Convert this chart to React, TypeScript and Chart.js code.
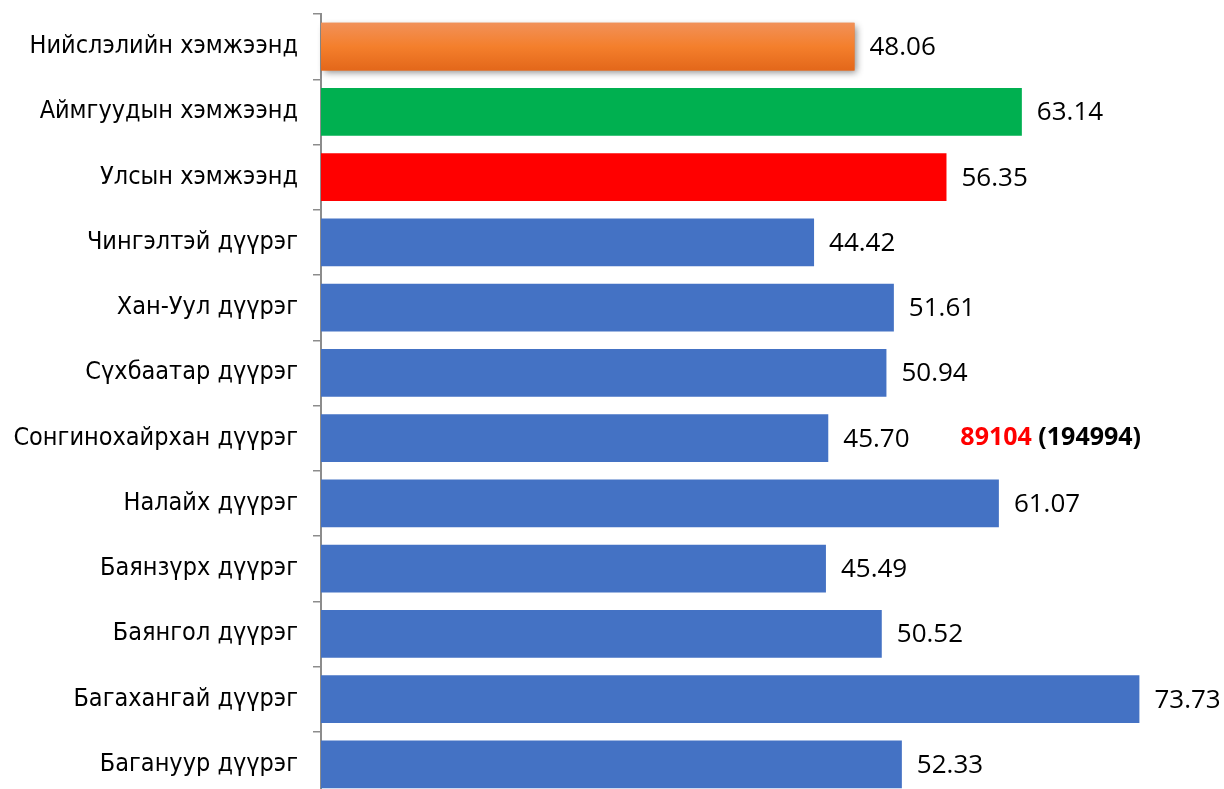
import { useEffect, useRef } from 'react';
import { Chart, registerables } from 'chart.js';

Chart.register(...registerables);

const categories = [
  'Нийслэлийн хэмжээнд',
  'Аймгуудын хэмжээнд',
  'Улсын хэмжээнд',
  'Чингэлтэй дүүрэг',
  'Хан-Уул дүүрэг',
  'Сүхбаатар дүүрэг',
  'Сонгинохайрхан дүүрэг',
  'Налайх дүүрэг',
  'Баянзүрх дүүрэг',
  'Баянгол дүүрэг',
  'Багахангай дүүрэг',
  'Багануур дүүрэг',
];
const values = [48.06, 63.14, 56.35, 44.42, 51.61, 50.94, 45.7, 61.07, 45.49, 50.52, 73.73, 52.33];
const barColors = [
  '#F47F2C',
  '#00B050',
  '#FF0000',
  '#4472C4',
  '#4472C4',
  '#4472C4',
  '#4472C4',
  '#4472C4',
  '#4472C4',
  '#4472C4',
  '#4472C4',
  '#4472C4',
];
const noteCategory = 'Сонгинохайрхан дүүрэг';
const noteHighlight = '89104';
const noteRest = '(194994)';
const noteValue = 57.6;
const axisMax = 80;

const VALUE_FONT = '26px "Open Sans"';
const NOTE_FONT = 'bold 25px "Open Sans"';

export default function App() {
  const ref = useRef<HTMLCanvasElement>(null);

  useEffect(() => {
    const canvas = ref.current!;

    const shadowPlugin = {
      id: 'barShadow',
      beforeDatasetsDraw(chart: any) {
        const bar: any = chart.getDatasetMeta(0).data[0];
        if (!bar) return;
        const { x, y, base, height } = bar.getProps(['x', 'y', 'base', 'height'], true);
        const ctx = chart.ctx;
        ctx.save();
        ctx.shadowColor = 'rgba(0,0,0,0.45)';
        ctx.shadowBlur = 7;
        ctx.shadowOffsetX = 3;
        ctx.shadowOffsetY = 3;
        ctx.fillStyle = '#E8742A';
        ctx.fillRect(base, y - height / 2, x - base, height);
        ctx.restore();
      },
    };

    const labelPlugin = {
      id: 'valueLabels',
      afterDatasetsDraw(chart: any) {
        const ctx = chart.ctx;
        const meta = chart.getDatasetMeta(0);
        ctx.save();
        ctx.font = VALUE_FONT;
        ctx.fillStyle = '#000';
        ctx.textAlign = 'left';
        ctx.textBaseline = 'middle';
        meta.data.forEach((bar: any, i: number) => {
          const { x, y } = bar.getProps(['x', 'y'], true);
          ctx.fillText(values[i].toFixed(2), x + 15, y + 1);
        });
        const xs = chart.scales.x;
        const ys = chart.scales.y;
        const nx = xs.getPixelForValue(noteValue);
        const ny = ys.getPixelForValue(categories.indexOf(noteCategory));
        ctx.font = NOTE_FONT;
        ctx.fillStyle = '#FF0000';
        ctx.fillText(noteHighlight, nx, ny);
        const w = ctx.measureText(noteHighlight + ' ').width;
        ctx.fillStyle = '#000';
        ctx.fillText(noteRest, nx + w, ny);
        ctx.restore();
      },
    };

    const chart = new Chart(canvas, {
      type: 'bar',
      data: {
        labels: categories,
        datasets: [
          {
            data: values,
            backgroundColor: (c: any) => {
              if (c.dataIndex !== 0) return barColors[c.dataIndex];
              const ys = c.chart.scales && c.chart.scales.y;
              if (!ys) return barColors[0];
              const center = ys.getPixelForValue(0);
              if (!isFinite(center)) return barColors[0];
              const half = 24;
              const g = c.chart.ctx.createLinearGradient(0, center - half, 0, center + half);
              g.addColorStop(0, '#F19159');
              g.addColorStop(0.5, '#F47F2C');
              g.addColorStop(1, '#E3671A');
              return g;
            },
            borderWidth: 0,
            barPercentage: 0.73,
            categoryPercentage: 1,
          },
        ],
      },
      options: {
        indexAxis: 'y',
        responsive: false,
        animation: false,
        devicePixelRatio: 1,
        layout: { padding: { top: 14, bottom: 15, left: 0, right: 15 } },
        plugins: {
          legend: { display: false },
          tooltip: { enabled: false },
        },
        scales: {
          x: {
            type: 'linear',
            min: 0,
            max: axisMax,
            display: false,
          },
          y: {
            type: 'category',
            grid: {
              offset: true,
              drawOnChartArea: false,
              drawTicks: true,
              tickLength: 8,
              color: '#8C8C8C',
              lineWidth: 1.5,
            },
            border: { display: true, color: '#8C8C8C', width: 2 },
            ticks: {
              color: '#000',
              font: { family: '"DejaVu Sans Condensed", "Noto Sans", sans-serif', size: 25 },
              padding: 15,
              autoSkip: false,
            },
            afterFit: (scale: any) => {
              scale.width = 321;
              scale.paddingTop = 0;
              scale.paddingBottom = 0;
            },
          },
        },
      },
      plugins: [shadowPlugin, labelPlugin],
    });

    return () => chart.destroy();
  }, []);

  return (
    <div
      style={{
        position: 'fixed',
        left: 0,
        top: 0,
        width: 1224,
        height: 789,
        overflow: 'hidden',
        background: '#fff',
      }}
    >
      <canvas ref={ref} width={1224} height={812} style={{ display: 'block' }} />
    </div>
  );
}
